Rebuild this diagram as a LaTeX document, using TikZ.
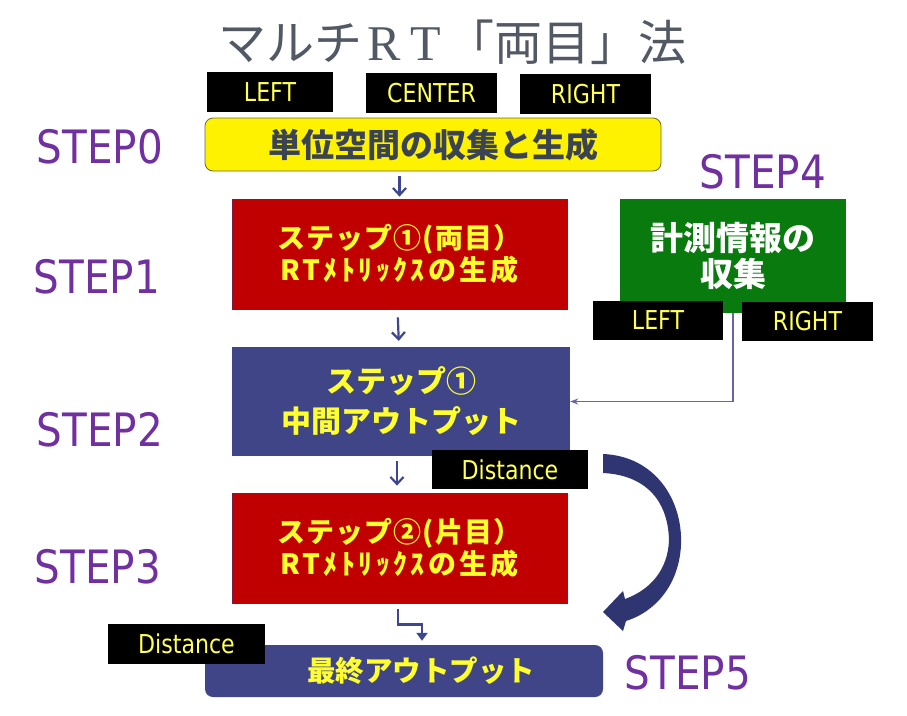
\documentclass[tikz,border=0pt]{standalone}
\usepackage{fontspec}
\usetikzlibrary{arrows.meta}
\setmainfont{DejaVu Sans}
\newfontfamily\stepf[FakeStretch=0.88]{DejaVu Sans}
\newfontfamily\lblf[FakeStretch=0.85]{DejaVu Sans}
\newfontfamily\jp{Noto Sans CJK JP}
\newfontfamily\jpa[LetterSpace=4]{Noto Sans CJK JP}
\newfontfamily\jpb[LetterSpace=12]{Noto Sans CJK JP}
\newfontfamily\serf{Liberation Serif}
\definecolor{stepc}{HTML}{7030A0}
\definecolor{titlec}{HTML}{535865}
\definecolor{lbly}{HTML}{FFFF55}
\definecolor{boxy}{HTML}{FFFF2E}
\definecolor{redf}{HTML}{C00000}
\definecolor{redd}{HTML}{7A1A40}
\definecolor{bluef}{HTML}{404588}
\definecolor{greenf}{HTML}{087A0E}
\definecolor{navy}{HTML}{2E3570}
\definecolor{arrc}{HTML}{3D4690}
\definecolor{linec}{HTML}{6464A8}
\definecolor{ytext}{HTML}{3A4354}
\definecolor{ybord}{HTML}{6B6B30}
\begin{document}
\begin{tikzpicture}[x=1pt,y=-1pt,
  steplbl/.style={text=stepc,font=\stepf\fontsize{46}{50}\selectfont,inner sep=0},
  lbl/.style={fill=black,text=lbly,font=\lblf\fontsize{26}{28}\selectfont,inner sep=0,minimum height=40pt},
  boxtxt/.style={align=center,inner sep=0,font=\jp\bfseries\fontsize{28}{32}\selectfont},
  rbox/.style={boxtxt,fill=redf,draw=redd,line width=0.8pt,text=boxy,minimum width=335pt,minimum height=110pt},
  bbox/.style={boxtxt,fill=bluef,text=boxy,minimum width=338pt,minimum height=109pt,font=\jp\bfseries\fontsize{30}{40}\selectfont},
  gbox/.style={boxtxt,fill=greenf,text=white,minimum width=226pt,minimum height=114pt,font=\jp\bfseries\fontsize{33}{36}\selectfont},
  ybox/.style={boxtxt,fill=yellow,draw=ybord,line width=0.8pt,rounded corners=8pt,text=ytext,minimum width=456pt,minimum height=53pt,font=\jp\bfseries\fontsize{33}{36}\selectfont},
  fbox/.style={boxtxt,fill=bluef,rounded corners=8pt,text=boxy,minimum width=398pt,minimum height=52pt,font=\jp\bfseries\fontsize{28.5}{36}\selectfont},
  sarr/.style={draw=arrc,line width=2.2pt,-{Straight Barb[length=7pt,width=13pt]}},
  barr/.style={draw=arrc,line width=2.8pt,-{Triangle[length=8pt,width=11pt]}},
  tarr/.style={draw=linec,line width=1.4pt,-{Stealth[length=8pt,width=6pt]}}
]
\useasboundingbox (0,0) rectangle (907,715);
% title
\node[text=titlec,inner sep=0,font=\jp\fontsize{48}{54}\selectfont] (title) at (452,42)
  {マルチ{\serf\fontsize{50}{54}\selectfont\makebox[44pt]{R}\makebox[40pt]{T}}「両目」法};
% step labels
\node[steplbl] (s0) at (100,147) {STEP0};
\node[steplbl] (s1) at (97,277) {STEP1};
\node[steplbl] (s2) at (100,430) {STEP2};
\node[steplbl] (s3) at (98,567) {STEP3};
\node[steplbl] (s4) at (763,172) {STEP4};
\node[steplbl] (s5) at (688,673) {STEP5};
% boxes
\node[ybox] (yb) at (433,144.5) {単位空間の収集と生成};
\node[rbox] (r1) at (399.5,254) {{\jpa ステップ①(両目）}\\{\jpb RTﾒﾄﾘｯｸｽの生成}};
\node[gbox] (g) at (733,256) {計測情報の\\収集};
\node[bbox] (b1) at (401,401.5) {ステップ①\\中間アウトプット};
\node[rbox] (r2) at (399.5,548) {{\jpa ステップ②(片目）}\\{\jpb RTﾒﾄﾘｯｸｽの生成}};
\node[fbox] (f) at (404,671) {\hspace*{34pt}最終アウトプット};
% connectors
\draw[sarr,shorten <=5pt,shorten >=2pt] (yb.south -| r1.north) -- (r1.north);
\draw[sarr,shorten <=8pt,shorten >=6pt] ([xshift=-2pt]r1.south) -- ([xshift=-2pt]b1.north);
\draw[sarr,shorten <=5pt,shorten >=7pt] ([xshift=-4pt]b1.south) -- ([xshift=-2.5pt]r2.north);
\draw[barr,shorten <=6pt,shorten >=4pt] ([xshift=-1.5pt]r2.south) -- ++(0,21) -| ([xshift=18pt]f.north);
\draw[tarr] (g.south) |- (b1.east);
% big curved arrow
\fill[navy] (603,454) .. controls (655,456) and (683,500) .. (681,545)
  .. controls (679,585) and (655,612) .. (626,621) -- (623,631) -- (603,612) -- (623,591)
  -- (625,599) .. controls (650,590) and (668,570) .. (669,540)
  .. controls (668,500) and (645,475) .. (603,473) -- cycle;
% labels
\node[lbl,minimum width=126pt] (L0) at (270,92) {LEFT};
\node[lbl,minimum width=131pt] (C0) at (431.5,93) {CENTER};
\node[lbl,minimum width=131pt] (R0) at (585.5,94) {RIGHT};
\node[lbl,minimum width=130pt,minimum height=39pt] (L4) at (658,320.5) {LEFT};
\node[lbl,minimum width=131pt,minimum height=39pt] (R4) at (807.5,321.5) {RIGHT};
\node[lbl,minimum width=156pt,minimum height=39pt] (D1) at (510,469.5) {Distance};
\node[lbl,minimum width=157pt] (D2) at (186.5,644) {Distance};
\end{tikzpicture}
\end{document}
